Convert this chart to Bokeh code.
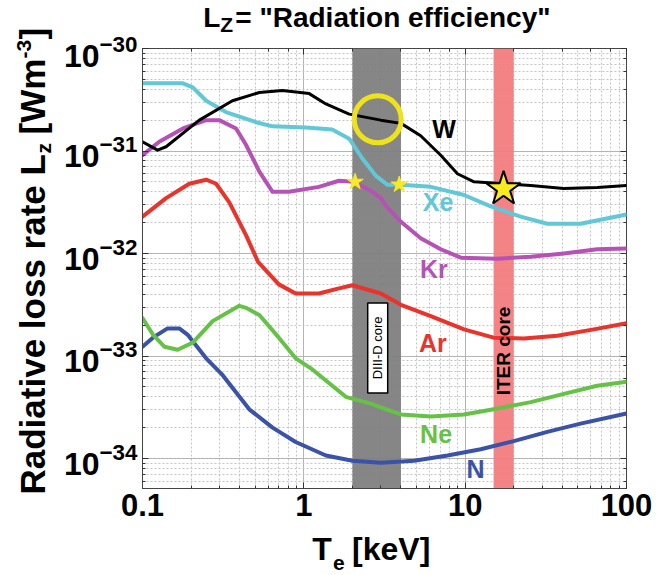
import math
from bokeh.plotting import figure
from bokeh.layouts import row, column
from bokeh.models import Label, CustomJSTickFormatter, LogAxis, LogTicker, Range1d
from bokeh.core.properties import value
from bokeh.embed import file_html
from bokeh.resources import INLINE

# ---------------- data ----------------
te_W = [0.1, 0.124, 0.14, 0.225, 0.361, 0.53, 0.737, 1.08, 1.37, 1.91, 3.0, 4.0, 5.3, 7.06, 8.96, 11.35, 17.4, 25.5, 40.9, 65.8, 100]
lz_W = [1.23e-31, 1.02e-31, 1.10e-31, 2.0e-31, 3.09e-31, 3.72e-31, 3.89e-31, 3.63e-31, 2.88e-31, 2.29e-31, 2.0e-31, 1.86e-31, 1.41e-31, 9.1e-32, 6.0e-32, 5.0e-32, 4.8e-32, 4.6e-32, 4.3e-32, 4.4e-32, 4.6e-32]

te_Xe = [0.1, 0.178, 0.205, 0.248, 0.329, 0.505, 0.64, 1.03, 1.5, 1.91, 2.3, 2.79, 3.29, 4.0, 6.12, 9.84, 14.4, 22.1, 32.3, 51.9, 100]
lz_Xe = [4.57e-31, 4.57e-31, 4.17e-31, 3.09e-31, 2.40e-31, 1.91e-31, 1.74e-31, 1.70e-31, 1.62e-31, 1.32e-31, 8.5e-32, 5.75e-32, 4.68e-32, 4.68e-32, 4.47e-32, 3.72e-32, 2.88e-32, 2.29e-32, 1.95e-32, 1.95e-32, 2.40e-32]

te_Kr = [0.1, 0.127, 0.178, 0.248, 0.299, 0.38, 0.438, 0.53, 0.64, 0.81, 1.24, 1.65, 2.05, 2.66, 3.0, 3.29, 4.0, 5.3, 7.06, 9.4, 15.8, 25.5, 40.9, 65.8, 100]
lz_Kr = [9.1e-32, 1.23e-31, 1.66e-31, 2.0e-31, 2.0e-31, 1.66e-31, 1.15e-31, 6.3e-32, 4.0e-32, 4.0e-32, 4.47e-32, 5.13e-32, 5.0e-32, 4.0e-32, 3.47e-32, 2.82e-32, 2.04e-32, 1.41e-32, 1.10e-32, 9.1e-33, 8.9e-33, 9.3e-33, 1.0e-32, 1.10e-32, 1.12e-32]

te_Ar = [0.1, 0.14, 0.195, 0.248, 0.286, 0.345, 0.438, 0.52, 0.70, 0.89, 1.24, 1.65, 2.0, 3.0, 4.0, 6.12, 9.84, 15.0, 23.1, 37.2, 62.7, 100]
lz_Ar = [2.29e-32, 3.47e-32, 4.79e-32, 5.25e-32, 4.79e-32, 3.16e-32, 1.51e-32, 8.3e-33, 5.0e-33, 4.07e-33, 4.07e-33, 4.57e-33, 4.9e-33, 4.07e-33, 3.16e-33, 2.45e-33, 1.82e-33, 1.51e-33, 1.48e-33, 1.58e-33, 1.82e-33, 2.09e-33]

te_Ne = [0.1, 0.116, 0.137, 0.165, 0.205, 0.272, 0.398, 0.438, 0.53, 0.70, 0.89, 1.13, 1.82, 2.66, 3.0, 4.0, 6.12, 9.84, 15.0, 25.5, 40.9, 65.8, 100]
lz_Ne = [2.34e-33, 1.62e-33, 1.23e-33, 1.15e-33, 1.35e-33, 2.19e-33, 3.09e-33, 2.95e-33, 2.51e-33, 1.51e-33, 9.5e-34, 7.4e-34, 4.0e-34, 3.39e-34, 3.16e-34, 2.69e-34, 2.57e-34, 2.69e-34, 3.02e-34, 3.55e-34, 4.27e-34, 5.13e-34, 5.62e-34]

te_N = [0.1, 0.116, 0.143, 0.169, 0.19, 0.248, 0.314, 0.459, 0.64, 0.89, 1.37, 2.0, 3.0, 4.83, 7.77, 12.5, 20, 32.3, 51.9, 100]
lz_N = [1.23e-33, 1.51e-33, 1.86e-33, 1.86e-33, 1.62e-33, 9.5e-34, 6.5e-34, 3.02e-34, 2.0e-34, 1.45e-34, 1.07e-34, 9.5e-35, 9.1e-35, 9.5e-35, 1.07e-34, 1.23e-34, 1.48e-34, 1.82e-34, 2.19e-34, 2.75e-34]

diiid_band = [2.0, 4.0]     # keV
iter_band = [15.0, 20.0]    # keV

circle_te = [2.87]
circle_lz = [2.04e-31]
small_star_te = [2.08, 3.9]
small_star_lz = [5.0e-32, 4.7e-32]
big_star_te = [17.3]
big_star_lz = [4.27e-32]

x_lo, x_hi = 0.1, 100
y_lo, y_hi = 5.1e-35, 1e-30

FONT = "Liberation Sans"

# ---------------- layout sizes ----------------
TOTAL_W, TOTAL_H = 667, 575
YL_W = 60                 # y-label strip width
TITLE_H = 36              # title strip height
XL_H = 45                 # x-label strip height
MAIN_W = TOTAL_W - YL_W   # 607
MAIN_H = TOTAL_H - TITLE_H - XL_H  # 494
BORDER_L, BORDER_R = 81, 41
FRAME_L = YL_W + BORDER_L             # canvas x of frame left (141)
FRAME_R = TOTAL_W - BORDER_R          # canvas x of frame right (626)

# ---------------- main figure ----------------
p = figure(width=MAIN_W, height=MAIN_H, x_axis_type="log", y_axis_type="log",
           x_range=(x_lo, x_hi), y_range=(y_lo, y_hi),
           min_border_left=BORDER_L, min_border_right=BORDER_R, min_border_top=12, min_border_bottom=42,
           toolbar_location=None, output_backend="svg",
           background_fill_color="white", border_fill_color="white")
p.outline_line_color = "#444444"
p.outline_line_width = 1

for ax in (p.xaxis[0], p.yaxis[0]):
    ax.major_tick_in = 6
    ax.major_tick_out = 0
    ax.minor_tick_in = 3
    ax.minor_tick_out = 0
    ax.major_tick_line_color = "#333333"
    ax.minor_tick_line_color = "#333333"
    ax.axis_line_color = "#444444"
    ax.major_label_text_font = FONT
    ax.major_label_text_font_style = "bold"
    ax.major_label_text_color = "black"

p.xaxis.major_label_text_font_size = "31px"
p.xaxis.major_label_standoff = 5
p.xaxis.formatter = CustomJSTickFormatter(code="return tick < 1 ? tick.toFixed(1) : tick.toFixed(0);")
p.yaxis.major_label_text_font_size = "32px"
p.yaxis.major_label_standoff = 5

for loc in ("right", "above"):
    ax = LogAxis(ticker=LogTicker())
    ax.major_label_text_font_size = "1px"
    ax.major_label_text_color = None
    ax.major_tick_in = 6
    ax.major_tick_out = 0
    ax.minor_tick_in = 3
    ax.minor_tick_out = 0
    ax.major_tick_line_color = "#333333"
    ax.minor_tick_line_color = "#333333"
    ax.axis_line_color = None
    ax.major_label_standoff = 0
    p.add_layout(ax, loc)

for g in (p.xgrid[0], p.ygrid[0]):
    g.grid_line_color = "#b4b4b4"
    g.grid_line_width = 1
    g.minor_grid_line_color = "#c4c4c4"
    g.minor_grid_line_dash = "2 2"
    g.minor_grid_line_width = 1

# bands
p.quad(left=[diiid_band[0]], right=[diiid_band[1]], bottom=[y_lo], top=[y_hi],
       fill_color="#7f7f7f", line_color=None, fill_alpha=0.95)
p.quad(left=[iter_band[0]], right=[iter_band[1]], bottom=[y_lo], top=[y_hi],
       fill_color="#f37c7e", line_color=None, fill_alpha=0.95)

# curves
series = [
    (te_N, lz_N, "#3a52a8", 4),
    (te_Ne, lz_Ne, "#66c147", 4),
    (te_Ar, lz_Ar, "#e8342b", 4),
    (te_Kr, lz_Kr, "#b652b6", 4),
    (te_Xe, lz_Xe, "#62c8d8", 4),
    (te_W, lz_W, "#000000", 3),
]
for xs, ys, col, lw in series:
    p.line(xs, ys, line_color=col, line_width=lw, line_join="round", line_cap="round")

# highlights
p.scatter(circle_te, circle_lz, marker="circle", size=47, fill_color=None,
          line_color="#ede21c", line_width=5)
p.scatter(small_star_te, small_star_lz, marker="star", size=17,
          fill_color="#f5ea25", line_color="#f5ea25", line_width=1)
p.scatter(big_star_te, big_star_lz, marker="star", size=36,
          fill_color="#f7ec1f", line_color="black", line_width=2)

# curve labels
curve_labels = [("W", 7.4, 1.63e-31, "black"),
                ("Xe", 6.8, 3.2e-32, "#62c8d8"),
                ("Kr", 6.4, 7.1e-33, "#b652b6"),
                ("Ar", 6.3, 1.35e-33, "#e8342b"),
                ("Ne", 6.6, 1.74e-34, "#66c147"),
                ("N", 11.6, 7.9e-35, "#3a52a8")]
for t, x, y, c in curve_labels:
    p.add_layout(Label(x=x, y=y, text=t, text_color=c, text_font=FONT, text_font_style="bold",
                       text_font_size="25px", text_align="center", text_baseline="middle"))

# DIII-D core box + label
p.rect(x=[2.87], y=[1.2e-33], width=20, height=90, width_units="screen", height_units="screen",
       fill_color="white", line_color="black", line_width=1.5)
p.add_layout(Label(x=2.87, y=1.2e-33, text="DIII-D core", angle=math.pi / 2,
                   text_font=FONT, text_font_size="13px", text_color="black",
                   text_align="center", text_baseline="middle"))
p.add_layout(Label(x=17.3, y=1.12e-33, text="ITER core", angle=math.pi / 2,
                   text_font=FONT, text_font_size="19px", text_font_style="bold", text_color="black",
                   text_align="center", text_baseline="middle"))


# ---------------- text strips (title, axis labels) ----------------
MID = 0.3465  # distance from alphabetic baseline to the middle of the text box, in em


def strip(w, h, x0, x1):
    s = figure(width=w, height=h, x_range=Range1d(x0, x1), y_range=Range1d(0, h),
               min_border=0, toolbar_location=None, output_backend="svg",
               x_axis_location=None, y_axis_location=None,
               background_fill_color="white", border_fill_color="white")
    s.outline_line_color = None
    s.xgrid.visible = False
    s.ygrid.visible = False
    return s


def put_h(s, h, y0, text, cx, base_y, px):
    """horizontal text: left edge at canvas x, alphabetic baseline at canvas y"""
    mid = base_y - MID * px
    s.text(x=[cx], y=[h - (mid - y0)], text=[text], text_font=value(FONT), text_font_style="bold",
           text_font_size="%dpx" % px, text_color="black",
           text_align="left", text_baseline="middle")


def put_v(s, h, text, base_x, start_y, px):
    """vertical text reading upward: starts at canvas y, baseline at canvas x"""
    mid = base_x - MID * px
    s.text(x=[mid], y=[h - start_y], text=[text], text_font=value(FONT), text_font_style="bold",
           text_font_size="%dpx" % px, text_color="black", angle=math.pi / 2,
           text_align="left", text_baseline="middle")


# title  L_Z = "Radiation efficiency"   (strip x range = canvas x of the frame)
title_fig = strip(MAIN_W, TITLE_H, FRAME_L, FRAME_R)
put_h(title_fig, TITLE_H, 0, "L", 202, 27, 28)
put_h(title_fig, TITLE_H, 0, "Z", 219, 31, 21)
put_h(title_fig, TITLE_H, 0, '= "Radiation efficiency"', 234, 27, 28)

# x axis label  T_e [keV]
xl_fig = strip(MAIN_W, XL_H, FRAME_L, FRAME_R)
Y0 = TOTAL_H - XL_H
put_h(xl_fig, XL_H, Y0, "T", 311, 560, 32)
put_h(xl_fig, XL_H, Y0, "e", 332, 570, 21)
put_h(xl_fig, XL_H, Y0, "[keV]", 351, 560, 32)

# y axis label  Radiative loss rate L_z [Wm^-3]
yl_fig = strip(YL_W, TOTAL_H, 0, YL_W)
put_v(yl_fig, TOTAL_H, "Radiative loss rate L", 44, 494, 35)
put_v(yl_fig, TOTAL_H, "z", 50, 153, 21)
put_v(yl_fig, TOTAL_H, "[Wm", 44, 134, 35)
put_v(yl_fig, TOTAL_H, "-3", 31, 58, 21)
put_v(yl_fig, TOTAL_H, "]", 44, 39, 35)

layout = row(yl_fig, column(title_fig, p, xl_fig))

open("out.html", "w").write(file_html(layout, INLINE))
